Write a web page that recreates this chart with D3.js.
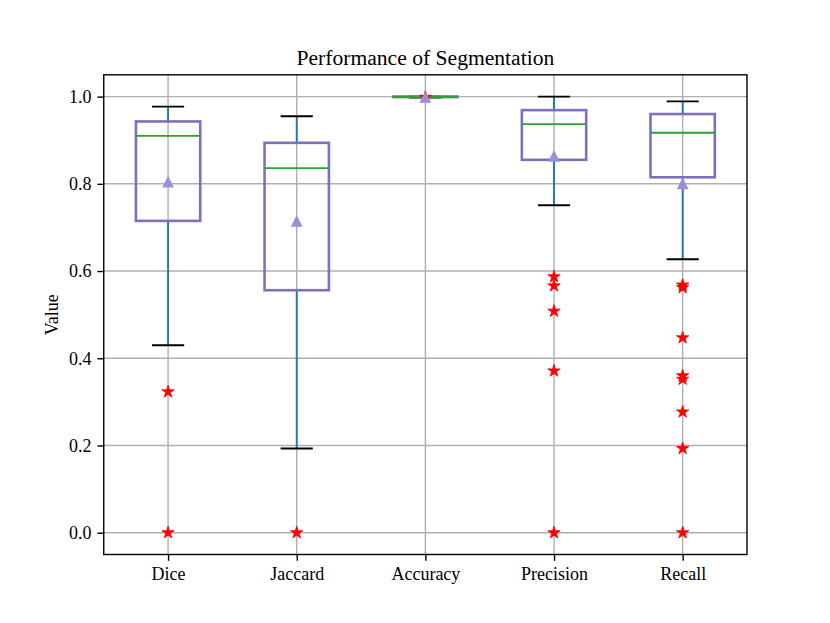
<!DOCTYPE html>
<html lang="en">
<head>
  <meta charset="UTF-8">
  <title>Performance of Segmentation</title>
  <style>
    body { margin: 0; background: #fff; }
    text { font-family: "Liberation Serif", "DejaVu Serif", serif; }
  </style>
</head>
<body>
  <svg id="svg" width="830" height="623"></svg>
  <script src="https://cdn.jsdelivr.net/npm/d3@7"></script>
  <script>
    // values
    const metrics = ['Dice', 'Jaccard', 'Accuracy', 'Precision', 'Recall']
    const whiskerLow = [0.430, 0.193, 0.998, 0.751, 0.627]
    const q1 = [0.715, 0.556, 0.999, 0.855, 0.815]
    const median = [0.910, 0.836, 0.9995, 0.937, 0.917]
    const q3 = [0.943, 0.894, 1.0, 0.969, 0.960]
    const whiskerHigh = [0.977, 0.955, 1.0, 1.0, 0.989]
    const means = [0.805, 0.715, 0.9995, 0.864, 0.801]
    const outliers = [
      [0.323, 0.0],
      [0.0],
      [0.9985],
      [0.587, 0.566, 0.508, 0.371, 0.0],
      [0.568, 0.562, 0.447, 0.360, 0.352, 0.277, 0.193, 0.0]
    ]
    const yTicks = [0.0, 0.2, 0.4, 0.6, 0.8, 1.0]

    const margin = { top: 74.8, right: 83, bottom: 68.5, left: 103.75 }
    const width = 830 - margin.left - margin.right
    const height = 623 - margin.top - margin.bottom

    const svg = d3.select('#svg')
    const g = svg.append('g').attr('transform', `translate(${margin.left}, ${margin.top})`)

    const xscale = d3.scalePoint()
      .domain(metrics)
      .range([0, width])
      .padding(0.5)
    const step = xscale.step()

    const yscale = d3.scaleLinear()
      .domain([-0.05, 1.05])
      .range([height, 0])

    // grid lines
    g.append('g')
      .selectAll('line')
      .data(yTicks)
      .enter()
      .append('line')
      .attr('x1', 0).attr('x2', width)
      .attr('y1', d => yscale(d)).attr('y2', d => yscale(d))
      .attr('stroke', '#b0b0b0').attr('stroke-width', 1.4)
    g.append('g')
      .selectAll('line')
      .data(metrics)
      .enter()
      .append('line')
      .attr('x1', d => xscale(d)).attr('x2', d => xscale(d))
      .attr('y1', 0).attr('y2', height)
      .attr('stroke', '#b0b0b0').attr('stroke-width', 1.4)

    const boxW = step * 0.5
    const capW = boxW * 0.5
    const rows = metrics.map((m, i) => ({
      m, lo: whiskerLow[i], q1: q1[i], med: median[i], q3: q3[i], hi: whiskerHigh[i],
      mean: means[i], out: outliers[i]
    }))

    // matplotlib style '^' marker: as wide as it is tall
    const triangleUp = {
      draw(context, size) {
        const r = Math.sqrt(size) / 2
        context.moveTo(0, -r)
        context.lineTo(r, r)
        context.lineTo(-r, r)
        context.closePath()
      }
    }

    const boxes = g.append('g')
      .selectAll('g')
      .data(rows)
      .enter()
      .append('g')
      .attr('transform', d => `translate(${xscale(d.m)}, 0)`)

    // whiskers
    boxes.append('line')
      .attr('y1', d => yscale(d.q1)).attr('y2', d => yscale(d.lo))
      .attr('stroke', '#1f77b4').attr('stroke-width', 1.9)
    boxes.append('line')
      .attr('y1', d => yscale(d.q3)).attr('y2', d => yscale(d.hi))
      .attr('stroke', '#1f77b4').attr('stroke-width', 1.9)
    // caps
    boxes.append('line')
      .attr('x1', -capW / 2).attr('x2', capW / 2)
      .attr('y1', d => yscale(d.lo)).attr('y2', d => yscale(d.lo))
      .attr('stroke', '#000').attr('stroke-width', 1.9)
    boxes.append('line')
      .attr('x1', -capW / 2).attr('x2', capW / 2)
      .attr('y1', d => yscale(d.hi)).attr('y2', d => yscale(d.hi))
      .attr('stroke', '#000').attr('stroke-width', 1.9)
    // box
    boxes.append('rect')
      .attr('x', -boxW / 2).attr('width', boxW)
      .attr('y', d => yscale(d.q3))
      .attr('height', d => yscale(d.q1) - yscale(d.q3))
      .attr('fill', 'none')
      .attr('stroke', '#7a72bd').attr('stroke-width', 2.6)
    // median
    boxes.append('line')
      .attr('x1', -boxW / 2).attr('x2', boxW / 2)
      .attr('y1', d => yscale(d.med)).attr('y2', d => yscale(d.med))
      .attr('stroke', '#2ca02c').attr('stroke-width', 1.9)

    // outliers
    boxes.selectAll('path.flier')
      .data(d => d.out)
      .enter()
      .append('path')
      .attr('class', 'flier')
      .attr('d', d3.symbol().type(d3.symbolStar).size(48))
      .attr('transform', d => `translate(0, ${yscale(d)})`)
      .attr('fill', '#ff0000')
      .attr('stroke', '#ff0000').attr('stroke-width', 0.8)

    // means
    boxes.append('path')
      .attr('d', d3.symbol().type(triangleUp).size(140))
      .attr('transform', d => `translate(0, ${yscale(d.mean)})`)
      .attr('fill', '#9b8fdc')

    // axes
    const bottomAxis = d3.axisBottom(xscale).tickSize(6.3).tickPadding(6)
    const xAxis = g.append('g')
      .attr('transform', `translate(0, ${height})`)
      .call(bottomAxis)
    const leftAxis = d3.axisLeft(yscale).tickValues(yTicks).tickFormat(d3.format('.1f')).tickSize(6.3).tickPadding(6)
    const yAxis = g.append('g').call(leftAxis)
    ;[xAxis, yAxis].forEach(a => {
      a.select('.domain').remove()
      a.selectAll('line').attr('stroke', '#000').attr('stroke-width', 1.4)
      a.selectAll('text').attr('font-size', 18).attr('fill', '#000')
        .style('font-family', '"Liberation Serif", serif')
    })

    // frame
    g.append('rect')
      .attr('width', width).attr('height', height)
      .attr('fill', 'none').attr('stroke', '#000').attr('stroke-width', 1.4)

    // title and label
    svg.append('text')
      .attr('x', margin.left + width / 2).attr('y', margin.top - 10)
      .attr('text-anchor', 'middle').attr('font-size', 21.6)
      .text('Performance of Segmentation')
    svg.append('text')
      .attr('transform', `translate(58, ${margin.top + height / 2}) rotate(-90)`)
      .attr('text-anchor', 'middle').attr('font-size', 18)
      .text('Value')
  </script>
</body>
</html>
